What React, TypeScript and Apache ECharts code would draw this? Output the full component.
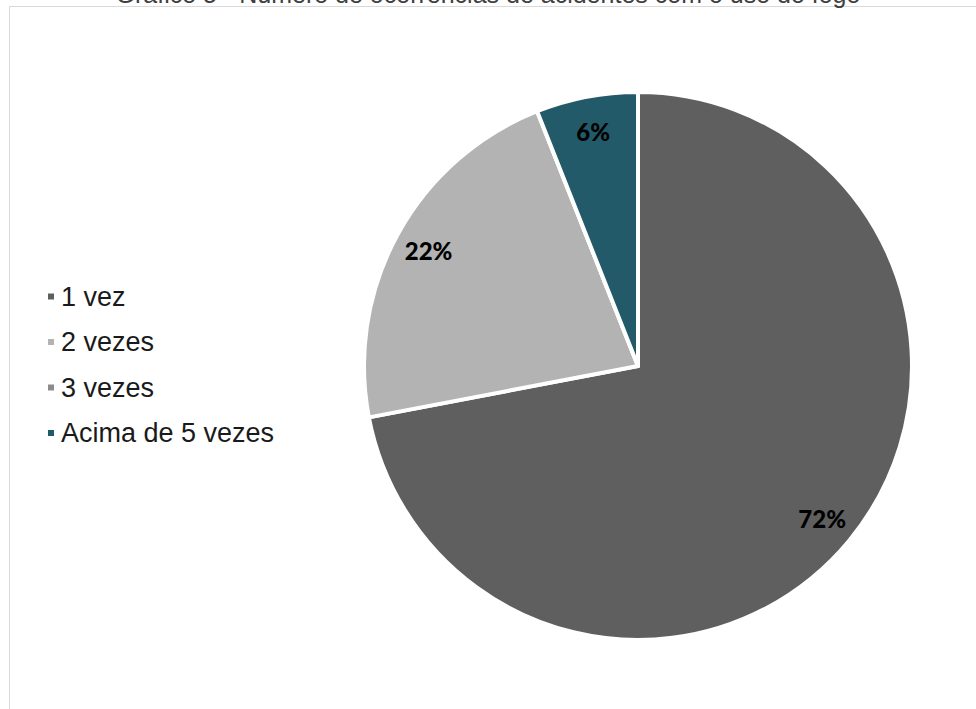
import React, { useEffect, useRef } from "react";
import * as echarts from "echarts";

const titleText = "Gráfico 5 - Número de ocorrências de acidentes com o uso do fogo";
const categories = ["1 vez", "2 vezes", "3 vezes", "Acima de 5 vezes"];
const percentValues = [72, 22, 0, 6];
const sliceColors = ["#5f5f5f", "#b3b3b3", "#8c8c8c", "#235a69"];

export default function App() {
  const ref = useRef<HTMLDivElement>(null);
  useEffect(() => {
    if (!ref.current) return;
    const chart = echarts.init(ref.current, null, { renderer: "svg" });
    const data = categories.map((name, i) => ({
      name,
      value: percentValues[i],
      itemStyle: { color: sliceColors[i] },
    }));
    chart.setOption({
      animation: false,
      backgroundColor: "#ffffff",
      title: {
        text: titleText,
        left: "center",
        top: -24,
        textStyle: {
          fontFamily: "Liberation Sans, Arial, sans-serif",
          fontSize: 25,
          fontWeight: "normal",
          color: "#404040",
        },
      },
      legend: {
        orient: "vertical",
        left: 41,
        top: 278,
        icon: "rect",
        itemWidth: 8,
        itemHeight: 8,
        itemGap: 18.5,
        data: categories,
        selectedMode: false,
        textStyle: {
          fontFamily: "Liberation Sans, Arial, sans-serif",
          fontSize: 27,
          lineHeight: 27,
          color: "#1a1a1a",
          padding: [0, 0, 0, 1],
        },
      },
      graphic: [
        {
          type: "rect",
          shape: { x: 9.5, y: 6.5, width: 1000, height: 800 },
          style: { fill: "none", stroke: "#d9d9d9", lineWidth: 1 },
          silent: true,
          z: -1,
        },
      ],
      series: [
        {
          type: "pie",
          center: [638, 366],
          radius: [0, 274],
          startAngle: 90,
          clockwise: true,
          data,
          label: { show: false },
          labelLine: { show: false },
          itemStyle: { borderColor: "#ffffff", borderWidth: 4 },
          emphasis: { disabled: true },
        },
        {
          type: "pie",
          center: [638, 366],
          radius: [200, 272],
          startAngle: 90,
          clockwise: true,
          silent: true,
          data: categories.map((name, i) => ({ name, value: percentValues[i] })),
          itemStyle: { color: "rgba(0,0,0,0)", borderWidth: 0 },
          labelLine: { show: false },
          label: {
            show: true,
            position: "inside",
            formatter: (p: any) => (p.value > 0 ? p.value + "%" : ""),
            fontFamily: "Lato, Carlito, Calibri, sans-serif",
            fontWeight: 900,
            fontSize: 24,
            color: "#000000",
          },
          emphasis: { disabled: true },
        },
      ],
    });
    return () => chart.dispose();
  }, []);
  return (
    <div
      ref={ref}
      style={{ position: "fixed", left: 0, top: 0, width: 976, height: 709 }}
    />
  );
}
